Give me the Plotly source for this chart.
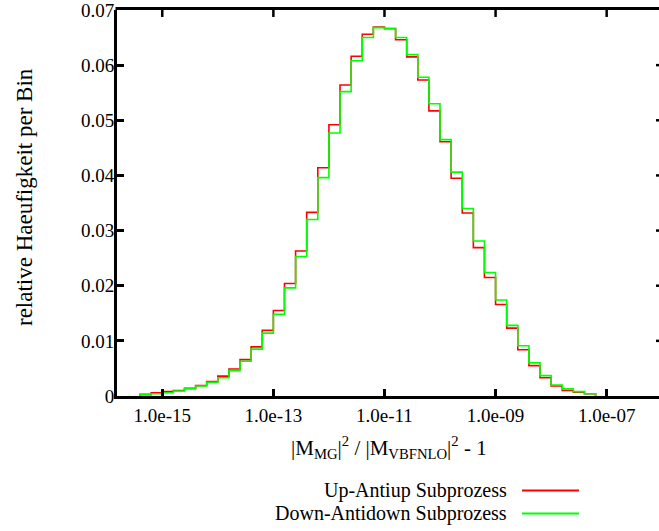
import math
import plotly.graph_objects as go

# Bin left edges (log10 of |M_MG|^2/|M_VBFNLO|^2 - 1), bin width 0.2 decades
bin_left_log10 = [-15.4, -15.2, -15.0, -14.8, -14.6, -14.4, -14.2, -14.0, -13.8, -13.6,
                  -13.4, -13.2, -13.0, -12.8, -12.6, -12.4, -12.2, -12.0, -11.8, -11.6,
                  -11.4, -11.2, -11.0, -10.8, -10.6, -10.4, -10.2, -10.0, -9.8, -9.6,
                  -9.4, -9.2, -9.0, -8.8, -8.6, -8.4, -8.2, -8.0, -7.8, -7.6, -7.4]
bin_right_last_log10 = -7.2

up_antiup = [0.0003, 0.0006, 0.0008, 0.0010, 0.0014, 0.0019, 0.0026, 0.0036, 0.0049, 0.0066,
             0.0089, 0.0119, 0.0155, 0.0204, 0.0263, 0.0333, 0.0414, 0.0492, 0.0564, 0.0616,
             0.0656, 0.0669, 0.0666, 0.0646, 0.0615, 0.0573, 0.0517, 0.0461, 0.0395, 0.0332,
             0.0269, 0.0215, 0.0166, 0.0123, 0.0084, 0.0055, 0.0033, 0.0018, 0.0010, 0.0007,
             0.0004]
down_antidown = [0.0002, 0.0004, 0.0006, 0.0009, 0.0013, 0.0018, 0.0025, 0.0033, 0.0046, 0.0063,
                 0.0085, 0.0114, 0.0148, 0.0196, 0.0253, 0.0320, 0.0396, 0.0477, 0.0552, 0.0608,
                 0.0650, 0.0668, 0.0667, 0.0650, 0.0619, 0.0578, 0.0530, 0.0465, 0.0406, 0.0340,
                 0.0281, 0.0224, 0.0174, 0.0128, 0.0091, 0.0060, 0.0037, 0.0020, 0.0013, 0.0008,
                 0.0004]

series_names = ["Up-Antiup Subprozess", "Down-Antidown Subprozess"]
series_colors = ["#ff0000", "#00ff00"]

x_tick_vals = [1e-15, 1e-13, 1e-11, 1e-9, 1e-7]
x_tick_text = ["1.0e-15", "1.0e-13", "1.0e-11", "1.0e-09", "1.0e-07"]
y_tick_vals = [0, 0.01, 0.02, 0.03, 0.04, 0.05, 0.06, 0.07]
y_tick_text = ["0", "0.01", "0.02", "0.03", "0.04", "0.05", "0.06", "0.07"]

FONT = "Liberation Serif, Times New Roman, serif"
X_RANGE_LOG = [-15.815, -6.058]
Y_RANGE = [0, 0.07]

def step_xy(vals):
    edges = [10 ** e for e in bin_left_log10] + [10 ** bin_right_last_log10]
    xs = [edges[0]] + edges[:-1] + [edges[-1], edges[-1]]
    ys = [0] + list(vals) + [vals[-1], 0]
    return xs, ys

fig = go.Figure()
for vals, name, col in zip([up_antiup, down_antidown], series_names, series_colors):
    xs, ys = step_xy(vals)
    fig.add_trace(go.Scatter(x=xs, y=ys, mode="lines", line=dict(color=col, width=1.6, shape="hv"),
                             name=name, showlegend=False, hoverinfo="skip"))

W, H = 659, 531
L, R, T, B = 117, 659, 8, 396
pw, ph = R - L, B - T

def px(xp):
    return (xp - L) / pw

def py(yp):
    return (B - yp) / ph

fig.update_layout(
    width=W, height=H,
    margin=dict(l=L, r=W - R, t=T, b=H - B),
    paper_bgcolor="white", plot_bgcolor="white",
    font=dict(family=FONT, size=19, color="black"),
    xaxis=dict(type="log", range=X_RANGE_LOG, tickvals=x_tick_vals, ticktext=x_tick_text,
               ticks="inside", ticklen=7, tickwidth=2.5, tickcolor="black",
               showline=True, linecolor="black", linewidth=3, mirror=False,
               showgrid=False, zeroline=False, tickfont=dict(family=FONT, size=19),
               ticklabelstandoff=0, ticklabeloverflow="allow"),
    yaxis=dict(range=Y_RANGE, tickvals=y_tick_vals, ticktext=y_tick_text,
               ticks="inside", ticklen=7, tickwidth=2.5, tickcolor="black",
               showline=True, linecolor="black", linewidth=3, mirror=False,
               showgrid=False, zeroline=False, tickfont=dict(family=FONT, size=19),
               ticklabelstandoff=-4, ticklabeloverflow="allow"),
)

# top frame line and its inward ticks
fig.add_shape(type="line", xref="paper", yref="paper", x0=-1.5 / pw, x1=1, y0=1 + 1.5 / ph, y1=1 + 1.5 / ph,
              line=dict(color="black", width=3))
for v in x_tick_vals:
    xp = (math.log10(v) - X_RANGE_LOG[0]) / (X_RANGE_LOG[1] - X_RANGE_LOG[0])
    fig.add_shape(type="line", xref="paper", yref="paper", x0=xp, x1=xp, y0=1, y1=1 - 7 / ph,
                  line=dict(color="black", width=2.5))

# right-side tick stubs (frame's right edge lies just outside the picture)
for v in y_tick_vals[1:-1]:
    fig.add_shape(type="line", xref="paper", yref="y", x0=1 - 3 / pw, x1=1, y0=v, y1=v,
                  line=dict(color="black", width=2.5))

# axis titles
fig.add_annotation(xref="paper", yref="paper", x=px(389), y=py(448), xanchor="center", yanchor="middle",
                   text="|M<sub>MG</sub>|<sup>2</sup> / |M<sub>VBFNLO</sub>|<sup>2</sup> - 1",
                   showarrow=False, font=dict(family=FONT, size=21, color="black"))
fig.add_annotation(xref="paper", yref="paper", x=px(24), y=py(196), xanchor="center", yanchor="middle",
                   text="relative Haeufigkeit per Bin", textangle=-90,
                   showarrow=False, font=dict(family=FONT, size=23, color="black"))

# legend (text right-aligned, sample line to the right)
for i, (name, col) in enumerate(zip(series_names, series_colors)):
    ly = 491 + 23 * i
    fig.add_annotation(xref="paper", yref="paper", x=px(508), y=py(ly), xanchor="right", yanchor="middle",
                       text=name, showarrow=False, borderpad=0,
                       font=dict(family=FONT, size=20, color="black"))
    fig.add_shape(type="line", xref="paper", yref="paper", x0=px(522), x1=px(579), y0=py(ly), y1=py(ly),
                  line=dict(color=col, width=2))

fig.write_html("out.html", config={"displayModeBar": False},
               post_script="document.body.style.margin='0';document.body.style.padding='0';")
